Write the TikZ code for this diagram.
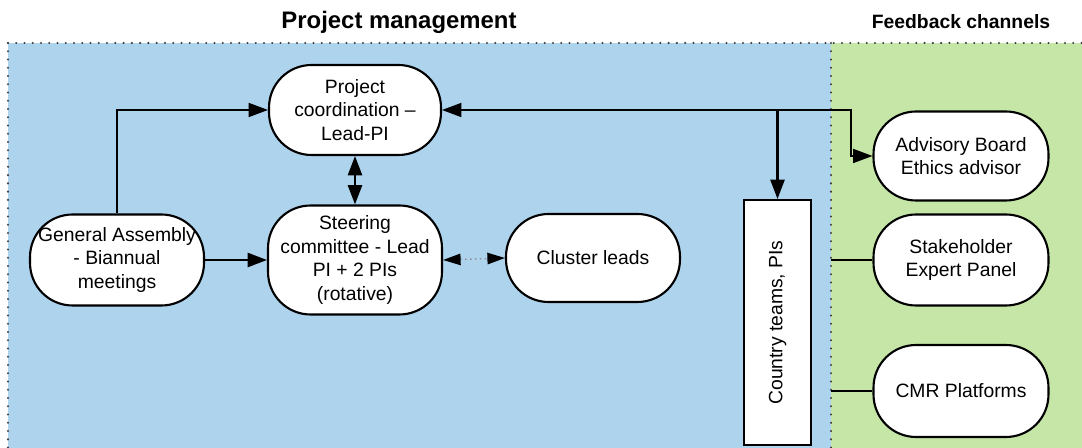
\documentclass[tikz,border=0pt]{standalone}
\usepackage{fontspec}
\setmainfont{Liberation Sans}
\usetikzlibrary{arrows.meta}
\definecolor{pmblue}{RGB}{174,211,237}
\definecolor{fbgreen}{RGB}{198,230,168}

\begin{document}
\begin{tikzpicture}[x=0.02cm,y=-0.02cm,
 pill/.style={draw,line width=1.2pt,fill=white,rounded corners=0.85cm,align=center,inner sep=0pt,font=\fontsize{11}{13.5}\selectfont},
 border/.style={line width=1.3pt,line cap=round,dash pattern=on 0pt off 4.7pt,black!75},
 >={Triangle[length=11pt,width=8pt]}]
 \useasboundingbox (0,0) rectangle (1082,448);
 \fill[pmblue] (8,43) rectangle (831,448); %project management area
 \fill[fbgreen] (831,43) rectangle (1082,448); %feedback area
 \draw[border] (8,43)--(1082,43);
 \draw[border] (8,43)--(8,448);
 \draw[border] (831,43)--(831,448);
 \coordinate (divtop) at (831,43); %divider
 \node[font=\bfseries\fontsize{13.6}{16}\selectfont] (pmtitle) at (399,22) {Project management};
 \node[font=\bfseries\fontsize{11}{13}\selectfont] (fbtitle) at (961,22) {Feedback channels};

 \node[pill,minimum width=3.44cm,minimum height=1.8cm] (pc) at (355,110) {Project\\coordination --\\Lead-PI};
 \node[pill,minimum width=3.48cm,minimum height=2.18cm] (sc) at (355,260) {Steering\\committee - Lead\\PI + 2 PIs\\(rotative)};
 \node[pill,minimum width=3.48cm,minimum height=1.82cm] (ga) at (117,260) {General Assembly\\- Biannual\\meetings};
 \node[pill,minimum width=3.48cm,minimum height=1.76cm] (cl) at (593,258) {Cluster leads};
 \node[draw,line width=1.2pt,fill=white,rotate=90,minimum width=4.9cm,minimum height=1.34cm,font=\fontsize{11}{13.5}\selectfont] (ct) at (777.5,322.5) {Country teams, PIs};
 \node[pill,minimum width=3.5cm,minimum height=1.78cm] (ab) at (961,156) {Advisory Board\\Ethics advisor};
 \node[pill,minimum width=3.5cm,minimum height=1.82cm] (sep) at (961,260) {Stakeholder\\Expert Panel};
 \node[pill,minimum width=3.5cm,minimum height=1.84cm] (cmr) at (961,391) {CMR Platforms};

 \coordinate (bend) at (851,110);
 \coordinate (split) at (ct.east |- pc.east);
 \draw[->,line width=0.8pt] (ga.north) |- (pc.west);
 \draw[->,line width=1.4pt] (ga.east) -- (sc.west);
 \draw[<->,line width=1.4pt] (pc.south) -- (sc.north);
 \draw[{Triangle[length=10pt,width=6.5pt,color=black]}-{Triangle[length=10pt,width=6.5pt,color=black]},line width=0.8pt,dotted,black!45] (sc.east) -- (cl.west);
 \draw[<->,line width=0.8pt] (pc.east) -- (bend) |- (ab.west);
 \draw[->,line width=1.4pt] (split) -- (ct.east);
 \draw[line width=1.4pt] (sep.west) -- (sep.west -| divtop);
 \draw[line width=1.4pt] (cmr.west) -- (cmr.west -| divtop);
\end{tikzpicture}
\end{document}
